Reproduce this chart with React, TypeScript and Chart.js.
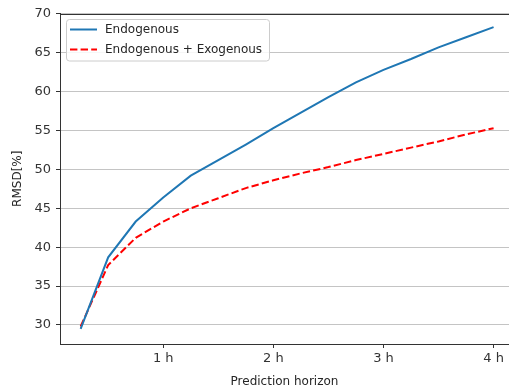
import React, { useEffect, useRef } from 'react';
import { Chart, registerables } from 'chart.js';

Chart.register(...registerables);

// Prediction horizon in hours (15-minute steps)
const horizons = [0.25, 0.5, 0.75, 1.0, 1.25, 1.5, 1.75, 2.0, 2.25, 2.5, 2.75, 3.0, 3.25, 3.5, 3.75, 4.0];
// RMSD [%] per horizon
const endogenous = [29.5, 38.7, 43.3, 46.4, 49.2, 51.2, 53.2, 55.3, 57.3, 59.3, 61.2, 62.8, 64.2, 65.7, 67.0, 68.3];
const endogenousExogenous = [29.8, 37.7, 41.2, 43.3, 45.0, 46.3, 47.6, 48.6, 49.5, 50.3, 51.2, 52.0, 52.8, 53.6, 54.5, 55.3];

const xTicks = [1, 2, 3, 4];
const yTicks = [30, 35, 40, 45, 50, 55, 60, 65, 70];

const seriesLabels = ['Endogenous', 'Endogenous + Exogenous'];
const xTitle = 'Prediction horizon';
const yTitle = 'RMSD[%]';

const FONT = "'DejaVu Sans', sans-serif";
const BLUE = '#1f77b4';
const RED = '#ff0000';
const DASH = [7.4, 3.2];

// Top spine plus a boxed legend in the upper-left corner of the plot area
const framePlugin = {
  id: 'frame',
  afterDraw(chart: any) {
    const { ctx, chartArea } = chart;
    ctx.save();
    ctx.strokeStyle = '#333333';
    ctx.lineWidth = 1;
    ctx.beginPath();
    ctx.moveTo(chartArea.left, Math.round(chartArea.top) + 0.5);
    ctx.lineTo(chartArea.right, Math.round(chartArea.top) + 0.5);
    ctx.stroke();

    const bx = chartArea.left + 6.5;
    const by = chartArea.top + 6;
    const bw = 203;
    const bh = 41.5;
    ctx.beginPath();
    ctx.roundRect(bx, by, bw, bh, 3);
    ctx.fillStyle = 'rgba(255,255,255,0.85)';
    ctx.fill();
    ctx.strokeStyle = '#cccccc';
    ctx.stroke();

    const entries = [
      { label: seriesLabels[0], color: BLUE, dash: [] as number[] },
      { label: seriesLabels[1], color: RED, dash: DASH },
    ];
    ctx.font = `12px ${FONT}`;
    ctx.textBaseline = 'middle';
    entries.forEach((e, i) => {
      const y = by + 10 + i * 20;
      ctx.beginPath();
      ctx.setLineDash(e.dash);
      ctx.strokeStyle = e.color;
      ctx.lineWidth = 2;
      ctx.moveTo(bx + 3.5, y);
      ctx.lineTo(bx + 30.5, y);
      ctx.stroke();
      ctx.setLineDash([]);
      ctx.fillStyle = '#262626';
      ctx.fillText(e.label, bx + 38.5, y);
    });
    ctx.restore();
  },
};

export default function App() {
  const canvasRef = useRef<HTMLCanvasElement | null>(null);

  useEffect(() => {
    document.body.style.margin = '0';
    const canvas = canvasRef.current;
    if (!canvas) return;

    const chart = new Chart(canvas, {
      type: 'line',
      data: {
        datasets: [
          {
            label: seriesLabels[0],
            data: horizons.map((h, i) => ({ x: h, y: endogenous[i] })),
            borderColor: BLUE,
            borderWidth: 2,
            pointRadius: 0,
            tension: 0,
            fill: false,
          },
          {
            label: seriesLabels[1],
            data: horizons.map((h, i) => ({ x: h, y: endogenousExogenous[i] })),
            borderColor: RED,
            borderWidth: 2,
            borderDash: DASH,
            pointRadius: 0,
            tension: 0,
            fill: false,
          },
        ],
      },
      options: {
        animation: false,
        responsive: false,
        devicePixelRatio: 1,
        layout: { padding: { top: 13.5, right: 0, left: 0, bottom: 0 } },
        plugins: {
          legend: { display: false },
          tooltip: { enabled: false },
        },
        scales: {
          x: {
            type: 'linear',
            min: 0.0625,
            max: 4.14,
            afterBuildTicks: (s: any) => {
              s.ticks = xTicks.map((v) => ({ value: v }));
            },
            afterFit: (s: any) => {
              s.height = 48;
            },
            ticks: {
              callback: (v: any) => `${v} h`,
              font: { family: FONT, size: 13 },
              color: '#333333',
              padding: 3,
              maxRotation: 0,
            },
            grid: {
              drawOnChartArea: false,
              tickLength: 4,
              tickColor: '#333333',
              tickWidth: 1,
            },
            border: { color: '#333333', width: 1 },
            title: {
              display: true,
              text: xTitle,
              font: { family: FONT, size: 12 },
              color: '#262626',
              padding: { top: 0, bottom: 3.3 },
            },
          },
          y: {
            type: 'linear',
            min: 27.55,
            max: 70.05,
            afterBuildTicks: (s: any) => {
              s.ticks = yTicks.map((v) => ({ value: v }));
            },
            afterFit: (s: any) => {
              s.width = 60;
            },
            ticks: {
              font: { family: FONT, size: 13 },
              color: '#333333',
              padding: 5,
            },
            grid: {
              color: '#c4c4c4',
              lineWidth: 1,
              tickLength: 4,
              tickColor: '#333333',
              tickWidth: 1,
            },
            border: { color: '#333333', width: 1 },
            title: {
              display: true,
              text: yTitle,
              font: { family: FONT, size: 12 },
              color: '#262626',
              padding: { top: 10.8, bottom: 0 },
            },
          },
        },
      },
      plugins: [framePlugin],
    });

    return () => chart.destroy();
  }, []);

  return (
    <div style={{ width: 509, height: 392, background: '#ffffff' }}>
      <canvas ref={canvasRef} width={509} height={392} />
    </div>
  );
}
